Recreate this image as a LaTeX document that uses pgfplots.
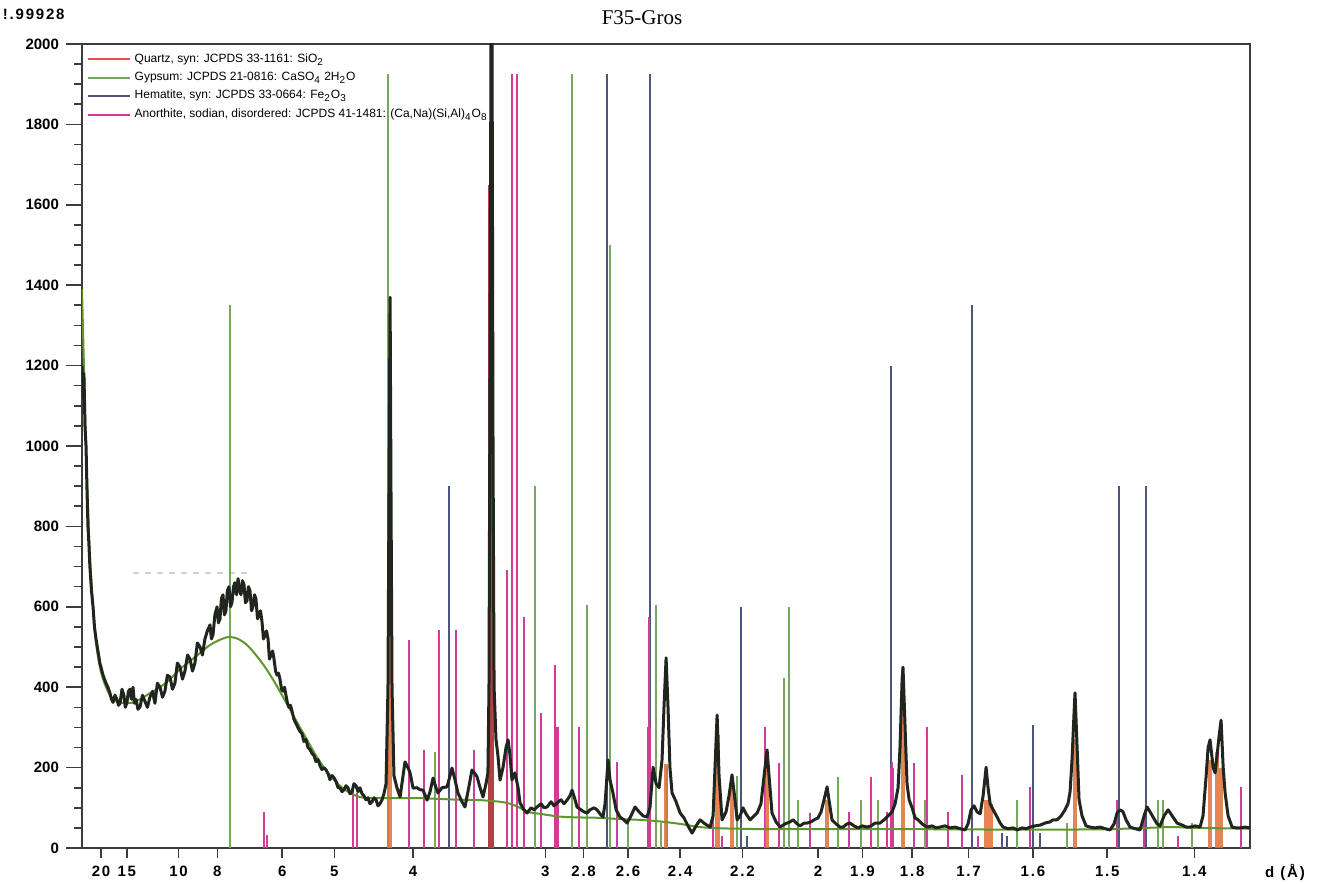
\documentclass[border=0pt]{standalone}
\usepackage{fontspec}
\setmainfont{Liberation Sans}
\newfontfamily\serif{Liberation Serif}
\newfontfamily\spaced[LetterSpace=12]{Liberation Sans}
\usepackage{pgfplots}
\pgfplotsset{compat=1.18}

\definecolor{obs}{RGB}{32,38,30}
\definecolor{bkg}{RGB}{95,150,45}
\definecolor{qtzleg}{RGB}{225,80,85}
\definecolor{qtzbar}{RGB}{225,110,55}
\definecolor{gyp}{RGB}{120,168,95}
\definecolor{hem}{RGB}{75,85,125}
\definecolor{ano}{RGB}{210,60,150}
\definecolor{frame}{RGB}{60,60,60}

\begin{document}
\begin{tikzpicture}
\begin{axis}[
    name=ax,
    scale only axis,
    width=584pt, height=402pt,
    xmin=3.33, xmax=69.94,
    ymin=0, ymax=2000,
    % ticks sit at 2theta (Cu Ka) of the d values
    xtick={4.415,5.887,8.836,11.051,14.752,17.725,22.206,29.756,31.936,34.468,37.443,40.991,45.305,47.835,50.676,53.888,57.560,61.798,66.766},
    xticklabels={20,15,10,8,6,5,4,3,2.8,2.6,2.4,2.2,2,1.9,1.8,1.7,1.6,1.5,1.4},
    ytick distance=200,
    minor y tick num=3,
    xtick pos=bottom, ytick pos=left,
    tick align=outside,
    major tick length=8pt,
    minor tick length=4pt,
    xtick style={/pgfplots/major tick length=5pt},
    tick style={frame, line width=0.8pt},
    axis line style={frame, line width=1pt},
    xticklabel style={font=\spaced\bfseries\fontsize{7.5}{9}\selectfont, yshift=2.5pt},
    yticklabel style={font=\bfseries\fontsize{7.5}{9}\selectfont},
    /pgf/number format/assume math mode=true,
    /pgf/number format/1000 sep={},
    legend style={at={(0.002,0.996)}, anchor=north west, draw=none, fill=none,
        font=\fontsize{6}{7.2}\selectfont, row sep=-0.6pt, inner sep=1pt},
    legend cell align=left,
    legend image code/.code={\draw[#1, line width=1pt] (0pt,0pt) -- (21pt,0pt);},
]

\addlegendimage{qtzleg}
\addlegendentry{Quartz, syn: JCPDS 33-1161: SiO\textsubscript{2}}
\addlegendimage{gyp}
\addlegendentry{Gypsum: JCPDS 21-0816: CaSO\textsubscript{4} 2H\textsubscript{2}O}
\addlegendimage{hem}
\addlegendentry{Hematite, syn: JCPDS 33-0664: Fe\textsubscript{2}O\textsubscript{3}}
\addlegendimage{ano}
\addlegendentry{Anorthite, sodian, disordered: JCPDS 41-1481: (Ca,Na)(Si,Al)\textsubscript{4}O\textsubscript{8}}

% faint dashed guide over the hump
\addplot[forget plot, gray!35, dashed, line width=0.8pt] coordinates {(6.24,684) (13.08,684)};

% Gypsum sticks
\addplot[forget plot, ycomb, gyp, line width=0.9pt] coordinates {
    (11.77,1350) (20.78,1925) (23.46,240) (29.16,900) (31.28,1925) (32.13,605)
    (33.44,1500) (34.47,70) (36.07,605) (36.35,62) (36.69,200) (40.69,180)
    (43.37,423) (43.65,600) (44.17,119) (46.45,177) (47.76,119) (48.73,119)
    (51.41,119) (56.66,119) (59.51,62) (64.70,119) (64.98,119) (66.64,62)
};

% Hematite sticks
\addplot[forget plot, ycomb, hem, line width=0.9pt] coordinates {
    (24.26,900) (33.27,1925) (35.72,1925) (40.91,600) (41.26,30) (49.47,1200)
    (54.09,1350) (55.80,37) (56.09,30) (57.57,306) (57.97,37) (62.47,900) (64.01,900)
};

% Anorthite sticks
\addplot[forget plot, ycomb, ano, line width=0.9pt] coordinates {
    (13.71,90) (13.88,32) (18.78,149) (19.01,137) (21.98,517) (22.83,244)
    (23.69,542) (24.66,542) (25.69,244) (27.57,692) (27.85,1925) (28.14,1925)
    (28.54,575) (29.51,336) (30.31,455) (31.67,301) (33.84,214) (35.67,575)
    (39.32,87) (39.83,30) (42.28,301) (43.08,211) (44.85,87) (47.07,90)
    (48.33,177) (49.24,90) (49.53,214) (50.78,211) (51.52,301) (52.72,90)
    (53.52,182) (54.43,30) (57.40,152) (62.36,119) (63.90,87) (65.84,30) (69.43,152)
};
\addplot[forget plot, ycomb, ano, line width=2pt] coordinates {
    (30.42,301) (35.67,300) (49.53,200)
};

% Quartz (drawn as broad bars under the observed peaks)
\addplot[forget plot, ycomb, qtzbar, opacity=0.85, line width=2.4pt] coordinates {
    (20.90,650) (36.64,210) (39.55,280) (40.40,150) (42.40,230) (45.82,120)
    (50.15,430) (54.89,120) (55.12,110) (59.96,270) (67.66,220) (68.06,240) (68.29,200)
};
\addplot[forget plot, ycomb, qtzleg!80!black, line width=2.6pt] coordinates {
    (26.66,1650)
};

% fitted background
\addplot[forget plot, bkg, line width=1pt, smooth] coordinates {
    (3.33,1390) (3.44,1200) (3.56,1000) (3.67,850) (3.78,730) (3.96,600)
    (4.13,510) (4.35,450) (4.53,420) (4.70,400) (4.92,380) (5.21,368)
    (5.50,362) (5.89,360) (6.24,362) (6.64,370) (7.21,385) (7.78,400)
    (8.35,420) (8.92,445) (9.49,465) (10.06,485) (10.63,505) (11.20,518)
    (11.71,525) (12.23,520) (12.74,505) (13.25,480) (13.77,450) (14.28,415)
    (14.79,376) (15.31,335) (15.76,300) (16.22,265) (16.67,230) (17.13,200)
    (17.59,175) (18.04,155) (18.50,140) (18.96,130) (19.41,125) (20.32,124)
    (21.47,124) (22.61,124) (23.75,122) (24.89,120) (26.03,119) (27.17,115)
    (27.74,110) (28.31,100) (28.71,90) (29.45,85) (30.59,78) (31.73,76)
    (32.87,75) (34.01,72) (35.15,70) (36.29,66) (37.43,60) (38.57,52)
    (39.71,49) (40.85,48) (42.00,47) (45.00,47) (50.00,47) (55.00,46)
    (60.00,46) (62.00,47) (64.00,50) (65.50,52) (67.00,50) (69.94,48)
};

% observed pattern
\addplot[forget plot, obs, line width=1.5pt, line join=round] coordinates {
    (3.33,1200) (3.38,1120) (3.44,1180) (3.50,1050) (3.56,1000) (3.61,900)
    (3.67,800) (3.72,760) (3.78,700) (3.87,640) (3.96,600) (4.04,550)
    (4.13,520) (4.24,490) (4.35,460) (4.44,445) (4.53,430) (4.61,420)
    (4.70,410) (4.81,400) (4.92,386) (5.01,370) (5.10,362) (5.21,380)
    (5.32,370) (5.41,355) (5.50,360) (5.61,395) (5.72,380) (5.80,350)
    (5.89,361) (5.98,390) (6.07,395) (6.15,370) (6.24,400) (6.32,360)
    (6.41,370) (6.52,345) (6.64,351) (6.78,380) (6.92,365) (7.06,350)
    (7.21,376) (7.35,390) (7.49,360) (7.63,410) (7.78,400) (7.92,375)
    (8.06,390) (8.20,430) (8.35,425) (8.49,395) (8.63,410) (8.77,460)
    (8.92,450) (9.06,420) (9.20,440) (9.35,480) (9.49,470) (9.63,440)
    (9.77,460) (9.91,510) (10.06,500) (10.20,480) (10.34,520) (10.48,540)
    (10.63,555) (10.71,520) (10.80,530) (10.91,580) (11.03,600) (11.11,560)
    (11.20,570) (11.28,620) (11.37,630) (11.45,580) (11.54,590) (11.62,640)
    (11.71,650) (11.80,600) (11.88,610) (11.97,650) (12.05,660) (12.14,630)
    (12.23,670) (12.31,640) (12.40,630) (12.48,665) (12.57,655) (12.65,610)
    (12.74,615) (12.82,650) (12.91,640) (13.00,590) (13.08,600) (13.17,630)
    (13.25,620) (13.34,570) (13.42,580) (13.51,590) (13.59,565) (13.68,520)
    (13.77,530) (13.85,540) (13.94,520) (14.02,470) (14.11,480) (14.20,490)
    (14.28,470) (14.37,440) (14.45,430) (14.54,435) (14.62,420) (14.71,395)
    (14.79,390) (14.88,400) (14.96,380) (15.05,360) (15.13,350) (15.22,355)
    (15.31,340) (15.42,320) (15.53,310) (15.64,300) (15.76,290) (15.87,285)
    (15.99,265) (16.10,270) (16.22,250) (16.33,245) (16.45,235) (16.56,230)
    (16.67,215) (16.79,220) (16.90,205) (17.01,195) (17.13,200) (17.24,195)
    (17.36,185) (17.47,170) (17.59,180) (17.70,175) (17.82,165) (17.93,150)
    (18.04,150) (18.16,140) (18.27,145) (18.39,155) (18.50,150) (18.61,135)
    (18.73,140) (18.84,160) (18.96,155) (19.07,140) (19.18,150) (19.30,135)
    (19.41,130) (19.52,120) (19.64,125) (19.75,110) (19.87,115) (19.98,125)
    (20.10,120) (20.21,105) (20.32,110) (20.44,120) (20.55,135) (20.67,160)
    (20.78,400) (20.84,900) (20.90,1370) (20.95,900) (21.01,400) (21.12,180)
    (21.29,150) (21.47,127) (21.64,180) (21.75,214) (21.92,200) (22.04,187)
    (22.21,149) (22.44,150) (22.61,145) (22.78,144) (23.01,119) (23.18,140)
    (23.35,174) (23.52,150) (23.63,137) (23.86,150) (24.15,152) (24.32,180)
    (24.43,199) (24.60,170) (24.77,137) (25.00,115) (25.17,102) (25.34,140)
    (25.57,194) (25.74,185) (25.86,177) (26.03,150) (26.20,127) (26.37,160)
    (26.48,187) (26.54,400) (26.60,1200) (26.66,2100) (26.71,2100) (26.77,1000)
    (26.83,400) (26.94,270) (27.05,230) (27.17,169) (27.34,200) (27.51,250)
    (27.63,269) (27.74,230) (27.85,169) (28.02,187) (28.20,150) (28.31,112)
    (28.54,95) (28.71,87) (28.94,100) (29.11,95) (29.28,102) (29.51,110)
    (29.68,100) (29.85,102) (30.08,115) (30.25,105) (30.42,112) (30.65,120)
    (30.82,110) (30.99,119) (31.16,130) (31.28,144) (31.45,120) (31.56,102)
    (31.79,95) (31.96,90) (32.13,87) (32.30,95) (32.53,100) (32.70,95)
    (32.87,85) (33.04,77) (33.16,110) (33.27,180) (33.33,219) (33.44,170)
    (33.61,137) (33.79,95) (34.01,77) (34.24,70) (34.41,62) (34.64,80)
    (34.87,102) (35.10,90) (35.33,80) (35.55,77) (35.72,100) (35.90,201)
    (36.07,160) (36.24,150) (36.41,220) (36.52,350) (36.64,473) (36.75,350)
    (36.86,200) (36.98,137) (37.21,115) (37.44,87) (37.66,75) (37.89,55)
    (38.12,37) (38.35,55) (38.58,70) (38.86,60) (39.15,52) (39.32,80)
    (39.43,200) (39.55,331) (39.66,180) (39.83,70) (40.06,90) (40.23,130)
    (40.40,182) (40.57,120) (40.69,70) (40.86,80) (41.03,100) (41.20,85)
    (41.43,70) (41.66,80) (41.83,87) (42.05,110) (42.23,180) (42.40,244)
    (42.51,180) (42.68,87) (42.91,65) (43.14,52) (43.42,60) (43.71,65)
    (43.88,70) (44.11,60) (44.28,55) (44.51,62) (44.68,62) (44.91,65)
    (45.08,70) (45.31,75) (45.48,90) (45.65,120) (45.82,152) (45.93,120)
    (46.10,70) (46.33,60) (46.56,52) (46.73,52) (46.96,60) (47.13,62)
    (47.36,55) (47.59,50) (47.82,55) (48.10,52) (48.33,55) (48.56,62)
    (48.84,62) (49.07,70) (49.30,80) (49.53,90) (49.70,110) (49.87,150)
    (49.98,250) (50.10,420) (50.15,450) (50.27,300) (50.38,160) (50.50,120)
    (50.67,100) (50.84,75) (51.01,70) (51.24,60) (51.52,52) (51.81,55)
    (52.04,50) (52.26,52) (52.55,55) (52.83,50) (53.12,52) (53.41,48)
    (53.69,45) (53.86,60) (54.03,95) (54.20,105) (54.37,90) (54.55,85)
    (54.72,130) (54.89,201) (55.00,150) (55.12,110) (55.29,95) (55.52,77)
    (55.69,62) (55.86,52) (56.14,48) (56.43,50) (56.66,45) (56.94,50)
    (57.17,48) (57.40,52) (57.68,55) (57.97,57) (58.25,62) (58.54,65)
    (58.71,70) (58.94,70) (59.17,80) (59.39,95) (59.56,110) (59.68,140)
    (59.79,220) (59.91,340) (59.96,386) (60.08,250) (60.19,120) (60.36,80)
    (60.59,55) (60.82,52) (61.10,50) (61.39,52) (61.68,48) (61.96,45)
    (62.19,60) (62.36,87) (62.53,95) (62.70,90) (62.87,70) (63.10,52)
    (63.39,48) (63.67,45) (63.90,80) (64.07,102) (64.24,90) (64.41,77)
    (64.64,60) (64.81,55) (65.04,80) (65.27,95) (65.50,80) (65.78,62)
    (66.07,57) (66.30,52) (66.52,52) (66.81,55) (67.09,52) (67.26,80)
    (67.44,180) (67.55,250) (67.66,269) (67.84,200) (67.95,187) (68.06,230)
    (68.18,280) (68.29,318) (68.41,200) (68.52,137) (68.69,80) (68.92,52)
    (69.15,50) (69.37,50) (69.66,52) (69.94,50)
};
\end{axis}

\node[font=\serif\fontsize{10.5}{12}\selectfont] at (ax.north) [xshift=-12pt, yshift=13pt] {F35-Gros};
\node[font=\spaced\bfseries\fontsize{7.5}{9}\selectfont, anchor=east, inner sep=0pt] at (ax.north west) [xshift=-8.5pt, yshift=15pt] {!.99928};
\node[font=\spaced\bfseries\fontsize{7.5}{9}\selectfont] at (ax.south east) [xshift=17.5pt, yshift=-12pt] {d (Å)};

\pgfresetboundingbox
\path (ax.south west) ++(-41pt,-17.5pt) rectangle ++(660pt,441.5pt);
\end{tikzpicture}
\end{document}
